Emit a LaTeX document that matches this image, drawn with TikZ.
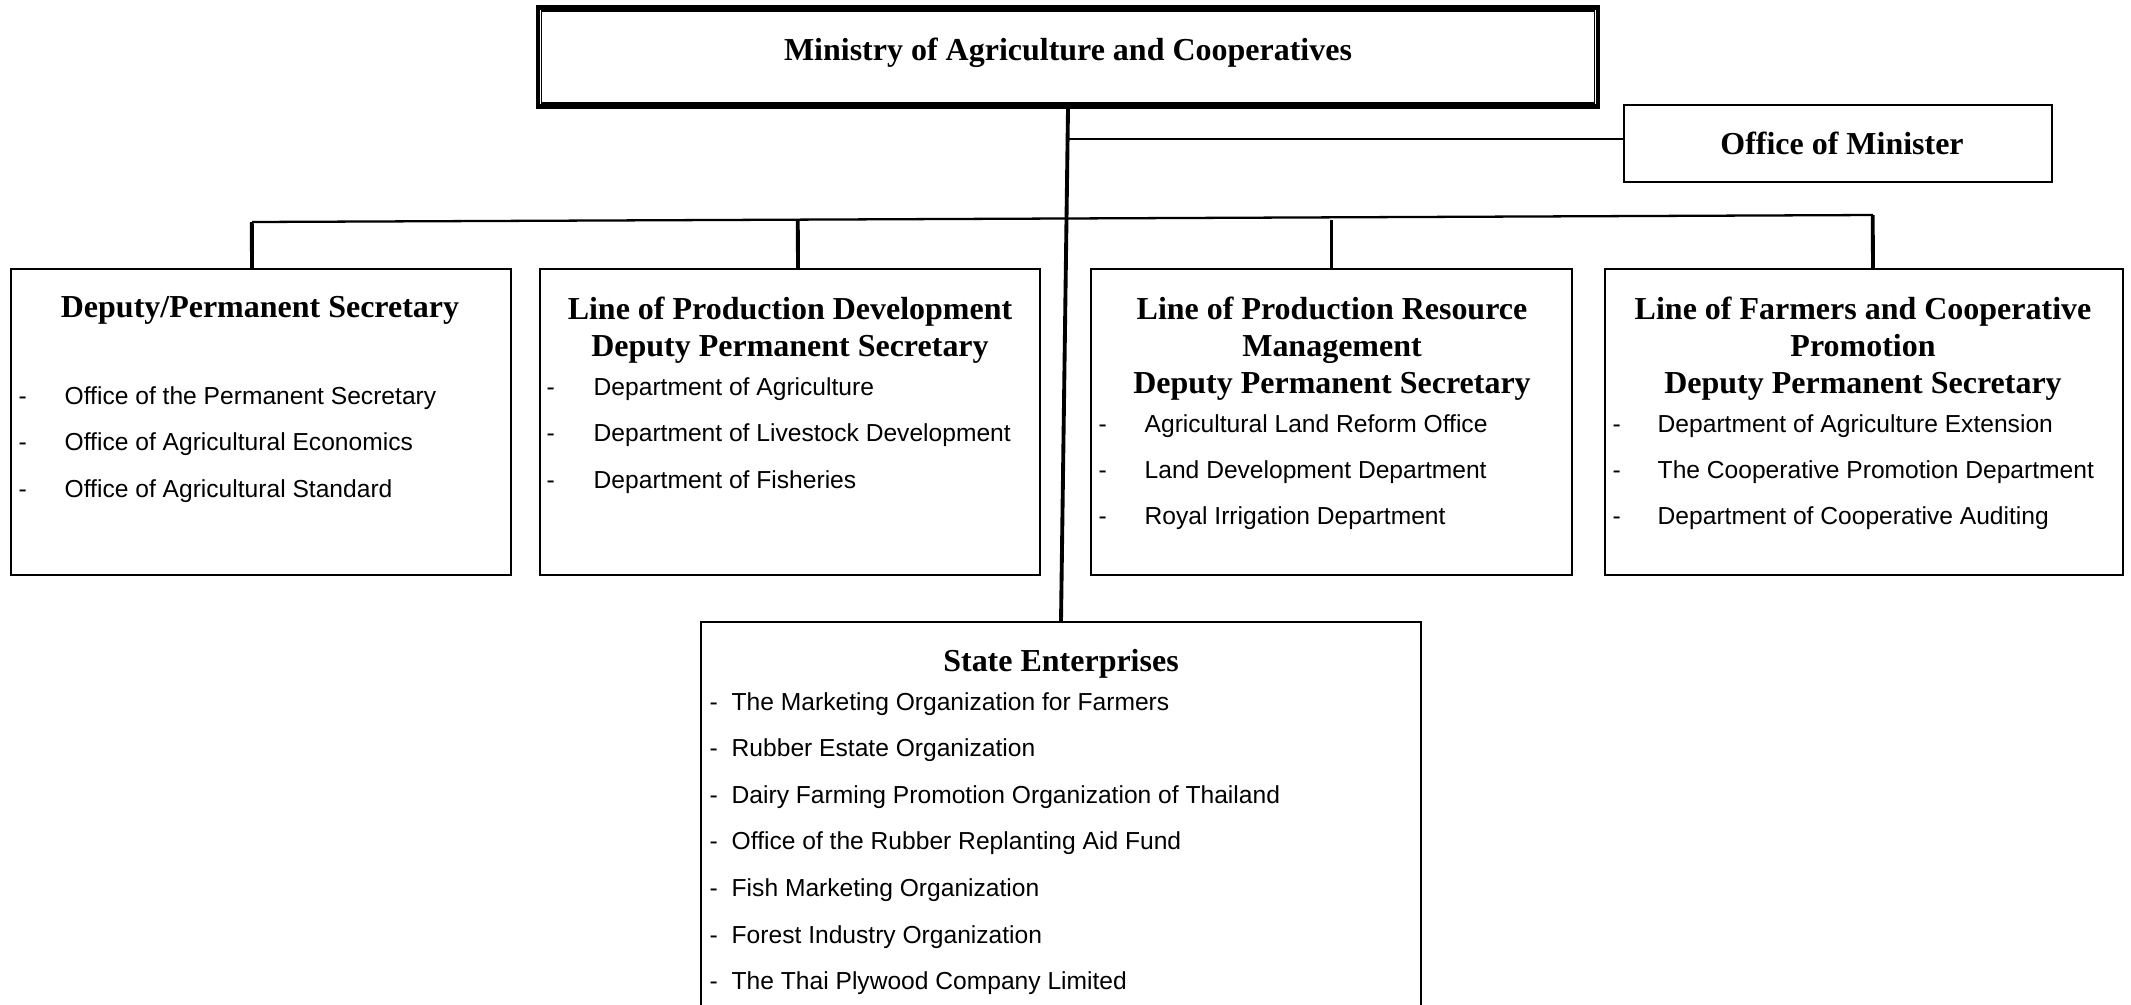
\documentclass[tikz,border=0pt]{standalone}
\usepackage{fontspec}
\setmainfont{Liberation Serif}
\setsansfont{Liberation Sans}
\usetikzlibrary{positioning,calc}

\newcommand{\headfont}{\fontsize{9.1}{10.5}\selectfont\bfseries}
\newcommand{\itemfont}{\sffamily\fontsize{7.0}{8.5}\selectfont}

\tikzset{
  unitbox/.style={draw, line width=0.6pt, inner sep=0pt},
  headtxt/.style={font=\headfont, align=center, inner sep=0pt, anchor=north},
  itemtxt/.style={font=\itemfont, inner sep=0pt, anchor=base west},
  link/.style={line width=0.65pt},
  drop/.style={line width=1.1pt}
}

\begin{document}
\begin{tikzpicture}
  \useasboundingbox[fill=white] (0,0) rectangle (21.31,-10.04);

  % Ministry (double frame)
  \node[unitbox, line width=1.25pt, minimum width=10.60cm, minimum height=0.99cm,
        text depth=0.45em, font=\headfont] (moac) at (10.68,-0.57) {Ministry of Agriculture and Cooperatives};
  \draw[line width=0.45pt] ([shift={(0.058,0.058)}]moac.south west)
    rectangle ([shift={(-0.058,-0.058)}]moac.north east);

  % Office of Minister
  \node[unitbox, minimum width=4.28cm, minimum height=0.77cm,
        font=\headfont] (ofm) at (18.38,-1.435) {\hspace{0.08cm}Office of Minister};

  % Deputy boxes
  \node[unitbox, minimum width=5.00cm, minimum height=3.06cm] (dps) at (2.61,-4.22) {};
  \node[unitbox, minimum width=5.00cm, minimum height=3.06cm] (lpd) at (7.90,-4.22) {};
  \node[unitbox, minimum width=4.81cm, minimum height=3.06cm] (lprm) at (13.315,-4.22) {};
  \node[unitbox, minimum width=5.18cm, minimum height=3.06cm] (lfcp) at (18.64,-4.22) {};

  % State enterprises (runs off the page)
  \node[unitbox, minimum width=7.20cm, minimum height=4.08cm] (se) at (10.61,-8.26) {};

  % headings
  \node[headtxt] (dps-h) at (2.60,-2.96) {Deputy/Permanent Secretary};
  \node[headtxt] (lpd-h) at (7.90,-2.96) {Line of Production Development\\Deputy Permanent Secretary};
  \node[headtxt] (lprm-h) at (13.32,-2.96) {Line of Production Resource\\Management\\Deputy Permanent Secretary};
  \node[headtxt] (lfcp-h) at (18.63,-2.96) {Line of Farmers and Cooperative\\Promotion\\Deputy Permanent Secretary};
  \node[headtxt] (se-h) at (10.61,-6.49) {State Enterprises};

  % item lists
  \foreach \txt [count=\i] in {Office of the Permanent Secretary,
      Office of Agricultural Economics, Office of Agricultural Standard}
    \node[itemtxt] (dps-\i) at (0.18,{-4.04-0.465*(\i-1)}) {\makebox[0.46cm][l]{-}\txt};
  \foreach \txt [count=\i] in {Department of Agriculture,
      Department of Livestock Development, Department of Fisheries}
    \node[itemtxt] (lpd-\i) at (5.46,{-3.95-0.467*(\i-1)}) {\makebox[0.47cm][l]{-}\txt};
  \foreach \txt [count=\i] in {Agricultural Land Reform Office,
      Land Development Department, Royal Irrigation Department}
    \node[itemtxt] (lprm-\i) at (10.98,{-4.32-0.46*(\i-1)}) {\makebox[0.46cm][l]{-}\txt};
  \foreach \txt [count=\i] in {Department of Agriculture Extension,
      The Cooperative Promotion Department, Department of Cooperative Auditing}
    \node[itemtxt] (lfcp-\i) at (16.12,{-4.32-0.46*(\i-1)}) {\makebox[0.45cm][l]{-}\txt};
  \foreach \txt [count=\i] in {The Marketing Organization for Farmers,
      Rubber Estate Organization, Dairy Farming Promotion Organization of Thailand,
      Office of the Rubber Replanting Aid Fund, Fish Marketing Organization,
      Forest Industry Organization, The Thai Plywood Company Limited}
    \node[itemtxt] (se-\i) at (7.09,{-7.10-0.466*(\i-1)}) {\makebox[0.22cm][l]{-}\txt};

  % connectors
  \draw[drop] (moac.south) -- (se.north);
  \coordinate (j1) at (10.677,-1.39);
  \draw[link] (j1) -- (j1 -| ofm.west);

  \coordinate (busl) at (2.52,-2.22);
  \coordinate (busr) at (18.73,-2.15);
  \draw[link] (busl) -- (busr);
  \draw[drop] ($(busl)!([xshift=-0.09cm]dps.north)!(busr)$) -- ([xshift=-0.09cm]dps.north);
  \draw[drop] ($(busl)!([xshift=0.08cm]lpd.north)!(busr)$) -- ([xshift=0.08cm]lpd.north);
  \draw[drop] ([yshift=0.48cm]lprm.north) -- (lprm.north);
  \draw[drop] ($(busl)!([xshift=0.09cm]lfcp.north)!(busr)$) -- ([xshift=0.09cm]lfcp.north);
\end{tikzpicture}
\end{document}
